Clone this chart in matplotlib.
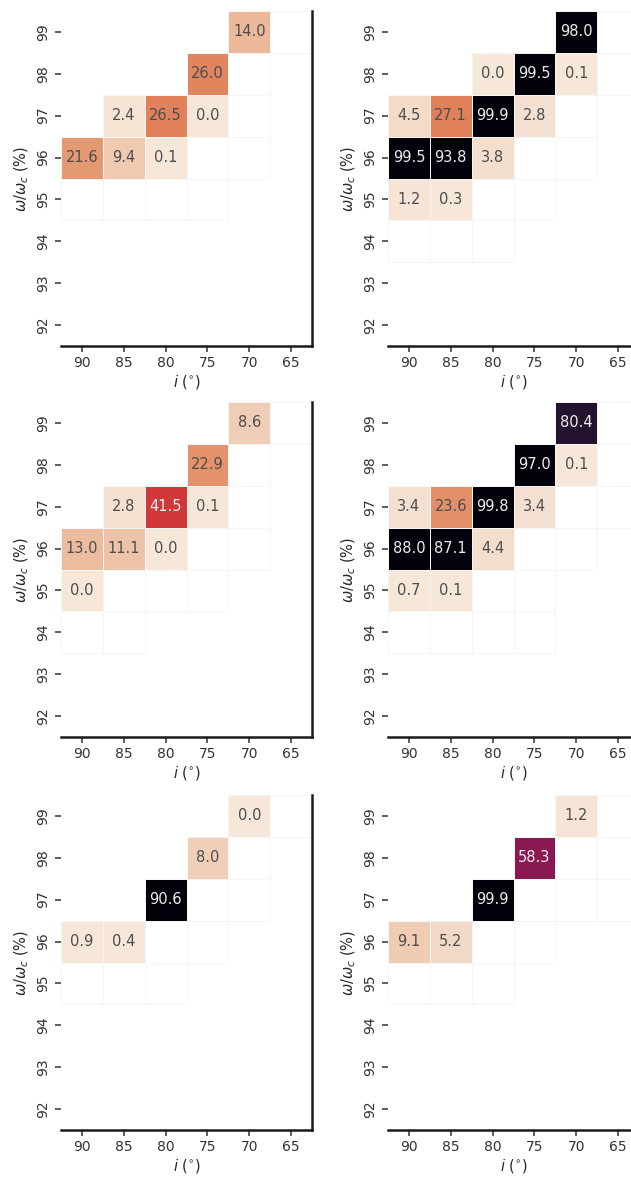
import numpy as np
import matplotlib
matplotlib.use("Agg")
import matplotlib.pyplot as plt
import seaborn as sns
from matplotlib.colors import ListedColormap, to_rgba

n = np.nan

incl_labels = ["90", "85", "80", "75", "70", "65"]
omega_labels = ["99", "98", "97", "96", "95", "94", "93", "92"]

# rows: omega 99 -> 92, cols: i 90 -> 65
# nan = no cell, 0 = computed cell with nothing to show
panel_a = [
    [n, n, n, n, 14.0, 0],
    [n, n, n, 26.0, 0, n],
    [n, 2.4, 26.5, 0.01, 0, n],
    [21.6, 9.4, 0.1, 0, 0, n],
    [0, 0, 0, 0, n, n],
    [n, n, n, n, n, n],
    [n, n, n, n, n, n],
    [n, n, n, n, n, n],
]
panel_b = [
    [n, n, n, n, 98.0, 0],
    [n, n, 0.01, 99.5, 0.1, 0],
    [4.5, 27.1, 99.9, 2.8, 0, n],
    [99.5, 93.8, 3.8, 0, 0, n],
    [1.2, 0.3, 0, 0, n, n],
    [0, 0, 0, n, n, n],
    [n, n, n, n, n, n],
    [n, n, n, n, n, n],
]
panel_c = [
    [n, n, n, n, 8.6, 0],
    [n, n, n, 22.9, 0, n],
    [n, 2.8, 41.5, 0.1, 0, n],
    [13.0, 11.1, 0.01, 0, 0, n],
    [0.01, 0, 0, 0, n, n],
    [0, 0, n, n, n, n],
    [n, n, n, n, n, n],
    [n, n, n, n, n, n],
]
panel_d = [
    [n, n, n, n, 80.4, 0],
    [n, n, n, 97.0, 0.1, 0],
    [3.4, 23.6, 99.8, 3.4, 0, 0],
    [88.0, 87.1, 4.4, 0, 0, n],
    [0.7, 0.1, 0, 0, n, n],
    [0, 0, 0, 0, n, n],
    [n, n, n, n, n, n],
    [n, n, n, n, n, n],
]
panel_e = [
    [n, n, n, n, 0.01, 0],
    [n, n, n, 8.0, 0, n],
    [n, n, 90.6, 0, 0, n],
    [0.9, 0.4, 0, 0, n, n],
    [0, 0, 0, n, n, n],
    [n, n, n, n, n, n],
    [n, n, n, n, n, n],
    [n, n, n, n, n, n],
]
panel_f = [
    [n, n, n, n, 1.2, 0],
    [n, n, n, 58.3, 0, 0],
    [n, n, 99.9, 0, 0, 0],
    [9.1, 5.2, 0, 0, n, n],
    [0, 0, 0, n, n, n],
    [n, n, n, n, n, n],
    [n, n, n, n, n, n],
    [n, n, n, n, n, n],
]
panels = [panel_a, panel_b, panel_c, panel_d, panel_e, panel_f]

# rocket_r, a bit stretched so low values stay light, and slightly muted
base = sns.color_palette("rocket_r", as_cmap=True)
rgb = base(np.linspace(0, 1, 256) ** 1.2)
mx = rgb[:, :3].max(axis=1)
sat = (mx - rgb[:, :3].min(axis=1)) / np.maximum(mx, 1e-6)
rgb[:, :3] *= (1 - 0.14 * sat)[:, None]
rgb[:, :3] *= np.clip(mx / 0.15, 0, 1)[:, None] ** 2  # darkest end goes to black
cmap = ListedColormap(rgb)
cmap.set_under("white")
vmin, vmax = 0.005, 88
line_rgba = to_rgba("#f7f5f3")

W, H = 631, 1179
fig = plt.figure(figsize=(W / 100, H / 100), dpi=100)
lefts = [61, 388]
tops = [11, 402, 795]
aw, ah = 251, 335

for k, data in enumerate(panels):
    r, c = divmod(k, 2)
    ax = fig.add_axes([lefts[c] / W, 1 - (tops[r] + ah) / H, aw / W, ah / H])
    vals = np.array(data, dtype=float)
    sns.heatmap(vals, ax=ax, cmap=cmap, vmin=vmin, vmax=vmax, cbar=False,
                linewidths=0.6, linecolor=line_rgba,
                xticklabels=incl_labels, yticklabels=omega_labels)
    # no cell lines where there is no cell
    ec = np.tile(line_rgba, (vals.size, 1))
    ec[np.isnan(vals).ravel(), 3] = 0
    ax.collections[0].set_edgecolor(ec)

    for i in range(vals.shape[0]):
        for j in range(vals.shape[1]):
            v = vals[i, j]
            if np.isnan(v) or v <= 0:
                continue
            cc = np.array(cmap((v - vmin) / (vmax - vmin))[:3])
            lin = np.where(cc <= 0.03928, cc / 12.92, ((cc + 0.055) / 1.055) ** 2.4)
            lum = 0.2126 * lin[0] + 0.7152 * lin[1] + 0.0722 * lin[2]
            col = "0.3" if lum > 0.3 else "0.93"
            ax.text(j + 0.5, i + 0.5, f"{v:.1f}", ha="center", va="center",
                    fontsize=10.5, color=col)
    for s in ["bottom", "right"]:
        ax.spines[s].set_visible(True)
        ax.spines[s].set_color("0.1")
        ax.spines[s].set_linewidth(1.8)
    ax.tick_params(length=4, width=1.1, color="0.2", labelsize=10, labelcolor="0.2")
    ax.set_xlabel(r"$i$ ($^{\circ}$)", fontsize=10.5, color="0.15", labelpad=2)
    ax.set_ylabel(r"$\omega/\omega_c$ (%)", fontsize=10.5, color="0.15")

fig.savefig("out.png", dpi=100)
